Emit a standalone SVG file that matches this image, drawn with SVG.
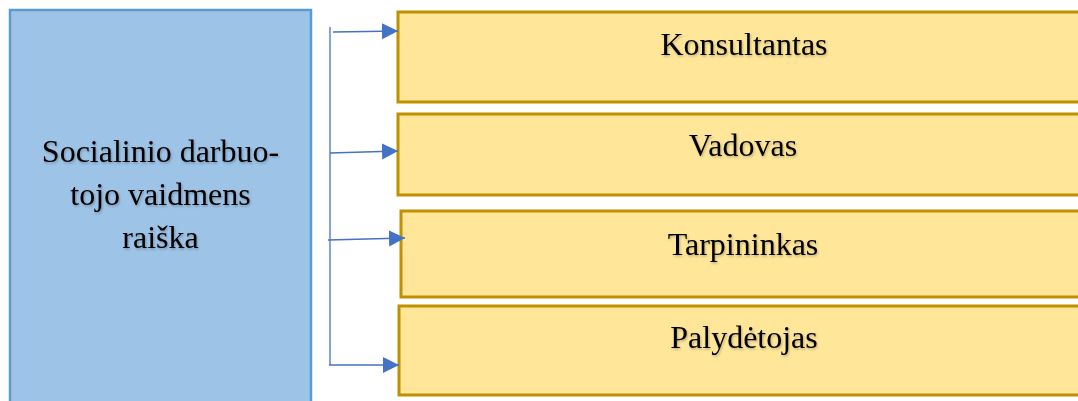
<svg xmlns="http://www.w3.org/2000/svg" width="1078" height="401" viewBox="0 0 1078 401">
<style>
.main{fill:#9dc3e6;stroke:#5b9bd5;stroke-width:2.5}
.box{fill:#ffe699;stroke:#bf9000;stroke-width:3}
.t{font-family:"Liberation Serif","Times New Roman",serif;font-size:32px;fill:#000;text-anchor:middle;filter:url(#sh)}
.c{fill:none;stroke:#4472c4;stroke-width:1.3}
</style>
<defs>
<filter id="sh" x="-10%" y="-20%" width="120%" height="150%">
<feDropShadow dx="1" dy="1.5" stdDeviation="0.8" flood-color="#000" flood-opacity="0.25"/>
</filter>
<marker id="ah" markerWidth="17" markerHeight="17" refX="16" refY="8" orient="auto" markerUnits="userSpaceOnUse">
<path d="M0,0 L16,8 L0,16 Z" fill="#4472c4"/>
</marker>
</defs>
<g id="node-main">
<rect class="main" x="10" y="10" width="301" height="400"/>
<text class="t" x="160.5" y="162">Socialinio darbuo-</text>
<text class="t" x="160.5" y="205">tojo vaidmens</text>
<text class="t" x="160.5" y="248">raiška</text>
</g>
<g id="node-konsultantas">
<rect class="box" x="398" y="12" width="692" height="90"/>
<text class="t" x="744" y="55">Konsultantas</text>
</g>
<g id="node-vadovas">
<rect class="box" x="398" y="114" width="692" height="81"/>
<text class="t" x="743" y="156">Vadovas</text>
</g>
<g id="node-tarpininkas">
<rect class="box" x="401" y="211" width="692" height="86"/>
<text class="t" x="743" y="255">Tarpininkas</text>
</g>
<g id="node-palydetojas">
<rect class="box" x="399" y="306" width="692" height="89"/>
<text class="t" x="744" y="348">Palydėtojas</text>
</g>
<g id="connectors">
<path class="c" d="M330,27 V365"/>
<path class="c" d="M333,32 L398,31" marker-end="url(#ah)"/>
<path class="c" d="M330,153 L398,151" marker-end="url(#ah)"/>
<path class="c" d="M328,240 L405,238" marker-end="url(#ah)"/>
<path class="c" d="M329,365 L399,365" marker-end="url(#ah)"/>
</g>
</svg>
